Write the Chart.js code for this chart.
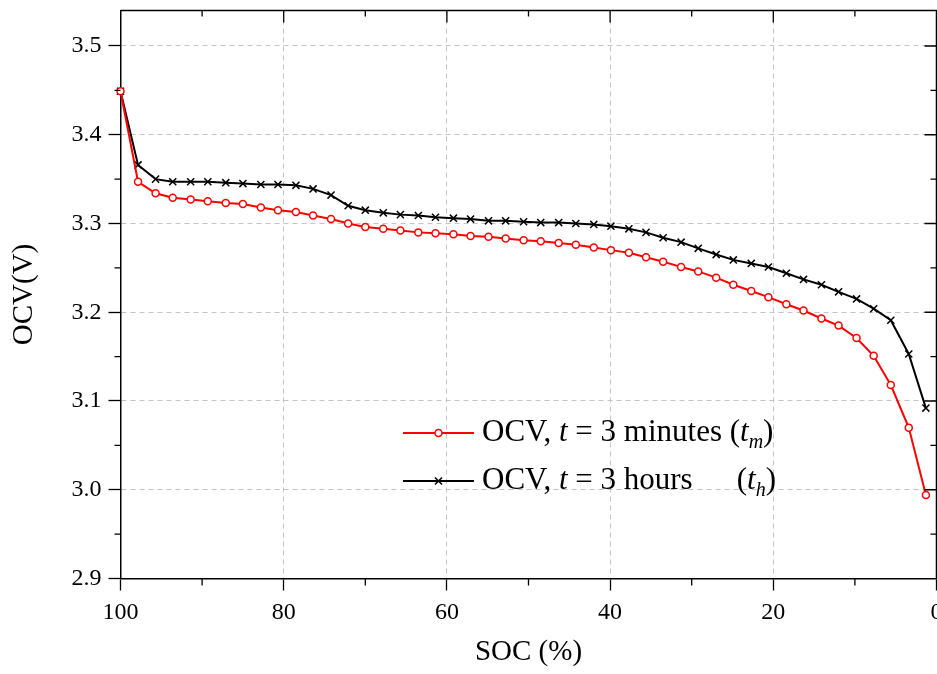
<!DOCTYPE html>
<html>
<head>
<meta charset="utf-8">
<script src="https://cdn.jsdelivr.net/npm/chart.js@4.4.1/dist/chart.umd.min.js"></script>
<style>
  html, body { margin: 0; padding: 0; background: #fff; overflow: hidden; }
  #wrap { width: 937px; height: 674px; overflow: hidden; }
</style>
</head>
<body>
<!-- canvas a bit wider than the page: the right edge is cropped like the source figure -->
<div id="wrap"><canvas id="c" width="943" height="674"></canvas></div>
<script>
// SOC (%) of each measuring point
const soc = [100, 97.85, 95.7, 93.6, 91.4, 89.3, 87.1, 85.0, 82.8, 80.7,
  78.5, 76.4, 74.2, 72.1, 70.0, 67.8, 65.7, 63.5, 61.4, 59.2,
  57.1, 54.9, 52.8, 50.6, 48.5, 46.3, 44.2, 42.0, 39.9, 37.7,
  35.6, 33.5, 31.3, 29.2, 27.0, 24.9, 22.7, 20.6, 18.4, 16.3,
  14.1, 12.0, 9.8, 7.7, 5.6, 3.4, 1.3];

// OCV (V) read 3 minutes after the pulse
const ocvMinutes = [3.449, 3.347, 3.334, 3.329, 3.327, 3.325, 3.323, 3.322, 3.318, 3.315,
  3.313, 3.309, 3.305, 3.300, 3.296, 3.294, 3.292, 3.290, 3.289, 3.288,
  3.286, 3.285, 3.283, 3.281, 3.280, 3.278, 3.276, 3.273, 3.270, 3.267,
  3.262, 3.257, 3.251, 3.246, 3.239, 3.231, 3.224, 3.217, 3.209, 3.202,
  3.193, 3.185, 3.171, 3.151, 3.118, 3.070, 2.994];

// OCV (V) read 3 hours after the pulse
const ocvHours = [3.449, 3.366, 3.350, 3.347, 3.347, 3.347, 3.346, 3.345, 3.344, 3.344,
  3.343, 3.339, 3.332, 3.320, 3.315, 3.312, 3.310, 3.309, 3.307, 3.306,
  3.305, 3.303, 3.303, 3.302, 3.301, 3.301, 3.300, 3.299, 3.297, 3.294,
  3.290, 3.284, 3.279, 3.272, 3.265, 3.259, 3.255, 3.251, 3.244, 3.237,
  3.231, 3.223, 3.215, 3.204, 3.191, 3.153, 3.092];

const seriesColors = ['#ff0000', '#000000'];
const seriesStyles = ['circle', 'crossRot'];

const serif = "'Liberation Serif', 'Times New Roman', serif";
const gridGray = '#c4c4c4';

const pts = (ys) => soc.map((s, i) => ({x: s, y: ys[i]}));

// no automatic label padding, the plot box is fixed
function fixBox(s, w, h) {
  if (w !== null) s.width = w;
  if (h !== null) s.height = h;
  s.paddingTop = 0; s.paddingBottom = 0; s.paddingLeft = 0; s.paddingRight = 0;
}

// frame on top/right + minor ticks (Origin style)
const frameTicks = {
  id: 'frameTicks',
  afterDraw(chart) {
    const {ctx, chartArea: a, scales: {x, y}} = chart;
    ctx.save();
    ctx.strokeStyle = '#000';
    ctx.lineWidth = 1.5;
    ctx.beginPath();
    ctx.moveTo(a.left, a.top); ctx.lineTo(a.right, a.top); ctx.lineTo(a.right, a.bottom);
    ctx.stroke();
    ctx.lineWidth = 1.3;
    ctx.beginPath();
    for (let v = 0; v <= 100; v += 10) {
      const px = x.getPixelForValue(v);
      const major = v % 20 === 0;
      if (!major) { ctx.moveTo(px, a.bottom); ctx.lineTo(px, a.bottom + 7); }
      if (v > 0 && v < 100) { ctx.moveTo(px, a.top); ctx.lineTo(px, a.top + (major ? 12 : 6)); }
    }
    for (let k = 0; k <= 12; k++) {
      const py = y.getPixelForValue(2.9 + k * 0.05);
      const major = k % 2 === 0;
      if (!major) { ctx.moveTo(a.left, py); ctx.lineTo(a.left - 6, py); }
      if (k > 0) { ctx.moveTo(a.right, py); ctx.lineTo(a.right - (major ? 12 : 6), py); }
    }
    ctx.stroke();
    ctx.restore();
  }
};

// legend with italic t and subscripts
const legendRows = [
  {main: [['OCV, ', ''], ['t', 'italic '], [' = 3 minutes ', '']], sub: 'm'},
  {main: [['OCV, ', ''], ['t', 'italic '], [' = 3 hours', '']], sub: 'h'}
];
const customLegend = {
  id: 'customLegend',
  afterDraw(chart) {
    const {ctx} = chart;
    const lineX0 = 403, lineX1 = 474, textX = 482;
    const rowY = [433, 481];
    ctx.save();
    ctx.textBaseline = 'middle';
    const fs = 31;
    let tagX = 0;
    legendRows.forEach((row, i) => {
      const ds = chart.data.datasets[i];
      const y = rowY[i];
      ctx.strokeStyle = ds.borderColor;
      ctx.lineWidth = ds.borderWidth;
      ctx.beginPath(); ctx.moveTo(lineX0, y); ctx.lineTo(lineX1, y); ctx.stroke();
      ctx.fillStyle = ds.pointBackgroundColor;
      ctx.strokeStyle = ds.pointBorderColor;
      ctx.lineWidth = ds.pointBorderWidth;
      Chart.helpers.drawPoint(ctx, {pointStyle: ds.pointStyle, radius: ds.pointRadius, borderWidth: ds.pointBorderWidth, rotation: 0}, (lineX0 + lineX1) / 2, y);
      ctx.fillStyle = '#000';
      let x = textX;
      row.main.forEach(([txt, style]) => {
        ctx.font = style + fs + 'px ' + serif;
        ctx.fillText(txt, x, y);
        x += ctx.measureText(txt).width;
      });
      if (i === 0) tagX = x; else x = tagX + 7;
      ctx.font = fs + 'px ' + serif;
      ctx.fillText('(', x, y); x += ctx.measureText('(').width;
      ctx.font = 'italic ' + fs + 'px ' + serif;
      ctx.fillText('t', x, y); x += ctx.measureText('t').width;
      ctx.font = 'italic 20px ' + serif;
      ctx.fillText(row.sub, x, y + 10); x += ctx.measureText(row.sub).width;
      ctx.font = fs + 'px ' + serif;
      ctx.fillText(')', x, y);
    });
    ctx.restore();
  }
};

const isEdge = (v, lo, hi) => Math.abs(v - lo) < 1e-6 || Math.abs(v - hi) < 1e-6;

new Chart(document.getElementById('c'), {
  type: 'line',
  data: {
    datasets: [
      {
        label: 'OCV, t = 3 minutes (tm)',
        data: pts(ocvMinutes),
        borderColor: seriesColors[0], borderWidth: 2,
        pointStyle: seriesStyles[0], pointRadius: 3.5, pointBorderWidth: 1.5,
        pointBackgroundColor: '#ffffff', pointBorderColor: seriesColors[0],
        tension: 0, clip: false
      },
      {
        label: 'OCV, t = 3 hours (th)',
        data: pts(ocvHours),
        borderColor: seriesColors[1], borderWidth: 2,
        pointStyle: seriesStyles[1], pointRadius: 5, pointBorderWidth: 1.5,
        pointBackgroundColor: seriesColors[1], pointBorderColor: seriesColors[1],
        tension: 0, clip: false
      }
    ]
  },
  options: {
    responsive: false,
    animation: false,
    layout: {padding: {top: 10.5, right: 1, left: 0, bottom: 0}},
    plugins: {legend: {display: false}, tooltip: {enabled: false}},
    scales: {
      x: {
        type: 'linear', reverse: true, min: 0, max: 100,
        afterFit: (s) => fixBox(s, null, 95.5),
        ticks: {stepSize: 20, color: '#000', padding: 8, font: {family: serif, size: 24}, maxRotation: 0},
        grid: {
          color: (c) => isEdge(c.tick.value, 0, 100) ? 'rgba(0,0,0,0)' : gridGray,
          lineWidth: 1, tickColor: '#000', tickLength: 12, tickWidth: 1.3
        },
        border: {display: true, color: '#000', width: 1.5, dash: [5, 4]},
        title: {display: true, text: 'SOC (%)', color: '#000', font: {family: serif, size: 29}, padding: {bottom: 4}}
      },
      y: {
        type: 'linear', min: 2.9, max: 3.54,
        afterFit: (s) => fixBox(s, 120.5, null),
        ticks: {stepSize: 0.1, includeBounds: false, color: '#000', padding: 7,
          font: {family: serif, size: 24}, callback: (v) => v.toFixed(1)},
        grid: {
          color: (c) => (c.tick.value < 2.95 || c.tick.value > 3.52) ? 'rgba(0,0,0,0)' : gridGray,
          lineWidth: 1, tickColor: '#000', tickLength: 12, tickWidth: 1.3
        },
        border: {display: true, color: '#000', width: 1.5, dash: [5, 4]},
        title: {display: true, text: 'OCV(V)', color: '#000', font: {family: serif, size: 29}, padding: {top: 7}}
      }
    }
  },
  plugins: [frameTicks, customLegend]
});
</script>
</body>
</html>
